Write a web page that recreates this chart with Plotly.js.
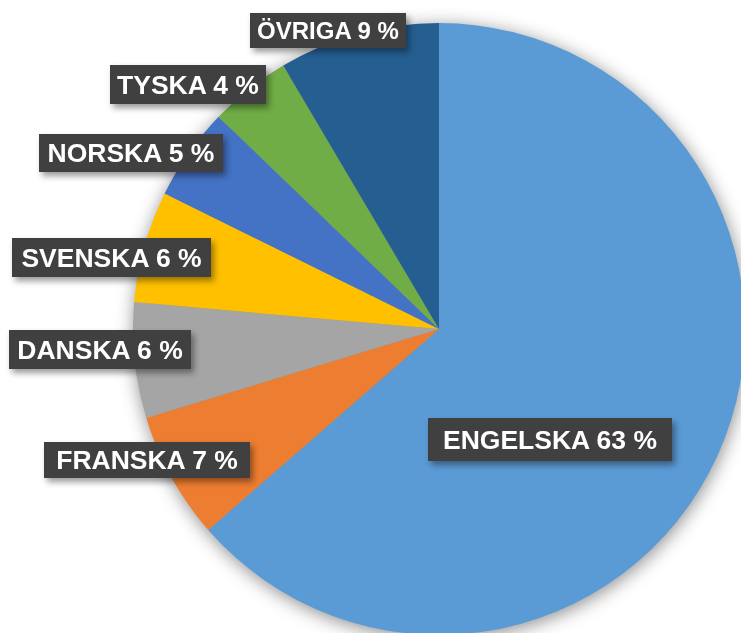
<!DOCTYPE html>
<html>
<head>
<meta charset="utf-8">
<script src="https://cdn.plot.ly/plotly-3.0.1.min.js"></script>
<style>
html,body{margin:0;padding:0;background:#fff;overflow:hidden;width:741px;height:633px;}
#chart{width:760px;height:660px;}
</style>
</head>
<body>
<div id="chart"></div>
<script>
// Data
var categories = ["ENGELSKA", "FRANSKA", "DANSKA", "SVENSKA", "NORSKA", "TYSKA", "ÖVRIGA"];
var shares = [63.6, 6.7, 6.1, 5.9, 4.9, 4.3, 8.5];
var shownPercent = [63, 7, 6, 6, 5, 4, 9];
var colors = ["#5B9BD5", "#ED7D31", "#A5A5A5", "#FFC000", "#4472C4", "#70AD47", "#255E91"];

var W = 760, H = 660;
// label box placement (pixels): centre x, centre y, width, height, font size
var boxes = [
  [550, 439.5, 244, 43, 26.5],
  [147, 460, 206, 36, 26.5],
  [100, 349.5, 182, 39, 26.5],
  [111.5, 257, 199, 39, 26.5],
  [131, 153, 184, 38, 26.5],
  [188, 84.5, 156, 39, 26.5],
  [328, 30.5, 156, 35, 24]
];

var cx = 439, cy = 329, r = 306;

var trace = {
  type: "pie",
  labels: categories,
  values: shares,
  sort: false,
  direction: "clockwise",
  rotation: 0,
  marker: {colors: colors, line: {width: 0}},
  textinfo: "none",
  hoverinfo: "label+percent",
  showlegend: false,
  domain: {x: [(cx - r) / W, (cx + r) / W], y: [1 - (cy + r) / H, 1 - (cy - r) / H]}
};

var annotations = categories.map(function (c, i) {
  var b = boxes[i];
  return {
    xref: "paper", yref: "paper",
    x: b[0] / W, y: 1 - b[1] / H,
    xanchor: "center", yanchor: "middle",
    text: "<b>" + c + " " + shownPercent[i] + " %</b>",
    showarrow: false,
    bgcolor: "#404040",
    borderwidth: 0,
    borderpad: 0,
    width: b[2], height: b[3],
    font: {family: "Liberation Sans, Arial, sans-serif", size: b[4], color: "#ffffff"}
  };
});

var layout = {
  width: W, height: H,
  margin: {l: 0, r: 0, t: 0, b: 0},
  paper_bgcolor: "#ffffff",
  plot_bgcolor: "#ffffff",
  showlegend: false,
  annotations: annotations
};

Plotly.newPlot("chart", [trace], layout, {displayModeBar: false, staticPlot: true}).then(function () {
  var pl = document.querySelector(".pielayer");
  if (pl) pl.style.filter = "drop-shadow(1px 3px 9px rgba(0,0,0,0.45))";
  document.querySelectorAll(".annotation").forEach(function (a) {
    a.style.filter = "drop-shadow(3px 4px 3px rgba(0,0,0,0.4))";
  });
});
</script>
</body>
</html>
